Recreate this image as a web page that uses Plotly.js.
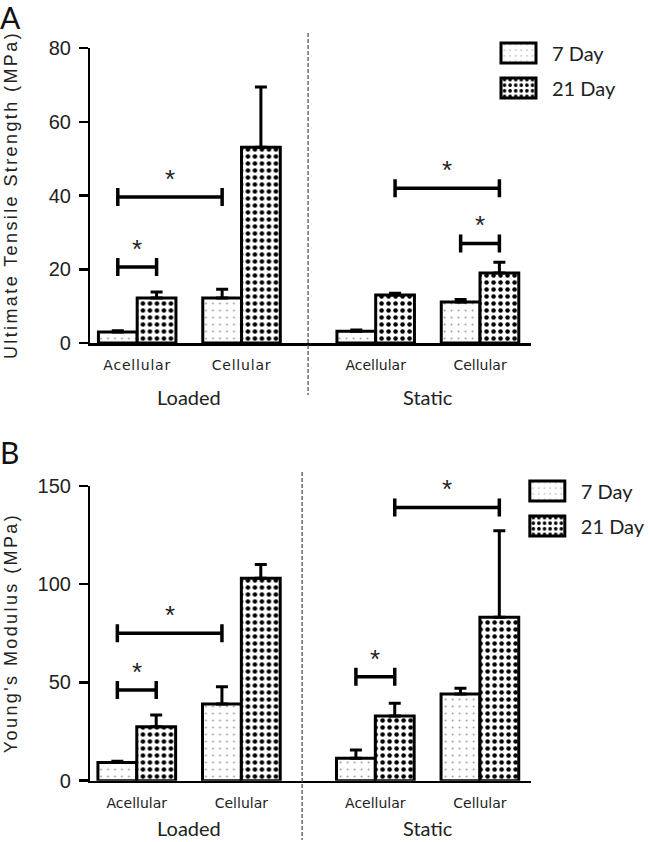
<!DOCTYPE html>
<html><head><meta charset="utf-8">
<script src="https://cdn.plot.ly/plotly-3.0.1.min.js"></script>
<style>
html,body{margin:0;padding:0;background:#fff;}
#chart{width:650px;height:842px;}
.xtick text{letter-spacing:0.8px;}
.annotation[data-index="0"] text,.annotation[data-index="1"] text{letter-spacing:2.4px;}
g.legendpoints path{d:path('M17.5,10H-17.5V-10H17.5Z');stroke-width:3px !important;}
</style></head><body><div id="chart"></div>
<script>
// ---- data ----
const categories = ['Acellular', 'Cellular'];
const groups = ['Loaded', 'Static'];
const seriesNames = ['7 Day', '21 Day'];

// Panel A: Ultimate Tensile Strength (MPa)
const utsLoaded7 = [3.0, 12.2];
const utsLoaded7Err = [0.3, 2.4];
const utsLoaded21 = [12.2, 53.1];
const utsLoaded21Err = [1.6, 16.3];
const utsStatic7 = [3.2, 11.1];
const utsStatic7Err = [0.3, 0.7];
const utsStatic21 = [13.0, 19.0];
const utsStatic21Err = [0.5, 2.9];
const utsTicks = [0, 20, 40, 60, 80];

// Panel B: Young's Modulus (MPa)
const ymLoaded7 = [9.3, 39.0];
const ymLoaded7Err = [0.6, 8.8];
const ymLoaded21 = [27.5, 103.0];
const ymLoaded21Err = [5.9, 7.1];
const ymStatic7 = [11.4, 44.1];
const ymStatic7Err = [4.2, 2.9];
const ymStatic21 = [32.9, 83.2];
const ymStatic21Err = [6.5, 44.0];
const ymTicks = [0, 50, 100, 150];

// significance brackets: [group, fromCategory, fromSeries, toCategory, toSeries, height]
const utsSig = [
  ['Loaded', 'Acellular', '7 Day', 'Acellular', '21 Day', 20.6],
  ['Loaded', 'Acellular', '7 Day', 'Cellular', '7 Day', 39.6],
  ['Static', 'Acellular', '21 Day', 'Cellular', '21 Day', 42.0],
  ['Static', 'Cellular', '7 Day', 'Cellular', '21 Day', 27.0]
];
const ymSig = [
  ['Loaded', 'Acellular', '7 Day', 'Acellular', '21 Day', 46.2],
  ['Loaded', 'Acellular', '7 Day', 'Cellular', '7 Day', 75.0],
  ['Static', 'Acellular', '7 Day', 'Acellular', '21 Day', 52.9],
  ['Static', 'Acellular', '21 Day', 'Cellular', '21 Day', 139.1]
];

// ---- styles ----
const BARGAP = 0.257;
const pattern7 = {shape: '.', fgcolor: '#999999', bgcolor: 'white', size: 7, solidity: 0.06};
const pattern21 = {shape: '.', fgcolor: 'black', bgcolor: 'white', size: 7, solidity: 0.33};

function barTrace(y, err, name, xa, ya, legendName, show, pat) {
  return {
    type: 'bar', x: categories, y: y, name: name, xaxis: xa, yaxis: ya,
    legend: legendName, legendgroup: name, showlegend: show,
    marker: {color: 'white', line: {color: 'black', width: 3}, pattern: pat},
    error_y: {type: 'data', symmetric: false, array: err, arrayminus: err.map(() => 0),
              color: 'black', thickness: 3, width: 6},
    hoverinfo: 'skip'
  };
}

const data = [
  barTrace(utsLoaded7, utsLoaded7Err, seriesNames[0], 'x', 'y', 'legend', true, pattern7),
  barTrace(utsLoaded21, utsLoaded21Err, seriesNames[1], 'x', 'y', 'legend', true, pattern21),
  barTrace(utsStatic7, utsStatic7Err, seriesNames[0], 'x2', 'y', 'legend', false, pattern7),
  barTrace(utsStatic21, utsStatic21Err, seriesNames[1], 'x2', 'y', 'legend', false, pattern21),
  barTrace(ymLoaded7, ymLoaded7Err, seriesNames[0], 'x3', 'y2', 'legend2', true, pattern7),
  barTrace(ymLoaded21, ymLoaded21Err, seriesNames[1], 'x3', 'y2', 'legend2', true, pattern21),
  barTrace(ymStatic7, ymStatic7Err, seriesNames[0], 'x4', 'y2', 'legend2', false, pattern7),
  barTrace(ymStatic21, ymStatic21Err, seriesNames[1], 'x4', 'y2', 'legend2', false, pattern21)
];

const W = 650, H = 842;
const px = v => v / W;
const py = v => 1 - v / H;

const tickFont = {family: 'DejaVu Sans', size: 14, color: '#222'};
function xAxis(domain, range, anchor) {
  return {domain: domain, range: range, anchor: anchor, type: 'category',
    showline: true, linecolor: 'black', linewidth: 2.5, ticks: '', showgrid: false,
    zeroline: false, tickfont: tickFont, ticklabelstandoff: 8, fixedrange: true};
}
function yAxis(domain, range, tickvals, anchor) {
  return {domain: domain, range: range, anchor: anchor, tickvals: tickvals,
    showline: true, linecolor: 'black', linewidth: 2.5, ticks: 'outside', ticklen: 9,
    tickwidth: 2.5, tickcolor: 'black', showgrid: false, zeroline: false,
    tickfont: {family: 'Liberation Sans', size: 20, color: '#222'}, ticklabelstandoff: 4};
}

const layout = {
  width: W, height: H, margin: {l: 0, r: 0, t: 0, b: 0},
  paper_bgcolor: 'white', plot_bgcolor: 'rgba(0,0,0,0)',
  barmode: 'group', bargap: BARGAP, bargroupgap: 0,
  xaxis: xAxis([px(91), px(310)], [-0.448, 1.638], 'y'),
  xaxis2: xAxis([px(310), px(534)], [-0.648, 1.486], 'y'),
  xaxis3: xAxis([px(91), px(304)], [-0.443, 1.581], 'y2'),
  xaxis4: xAxis([px(304), px(534)], [-0.70, 1.486], 'y2'),
  yaxis: yAxis([py(343), py(48)], [0, 80], utsTicks, 'x'),
  yaxis2: yAxis([py(780.7), py(486)], [0, 150], ymTicks, 'x3'),
  legend: {x: px(488), y: py(33.5), xanchor: 'left', yanchor: 'top', itemwidth: 57,
    tracegroupgap: 6, bgcolor: 'rgba(0,0,0,0)', font: {family: 'Lato', size: 20, color: '#222'}},
  legend2: {x: px(517), y: py(471.5), xanchor: 'left', yanchor: 'top', itemwidth: 57,
    tracegroupgap: 6, bgcolor: 'rgba(0,0,0,0)', font: {family: 'Lato', size: 20, color: '#222'}},
  shapes: [], annotations: []
};

// axis titles (index 0, 1)
layout.annotations.push({xref: 'paper', yref: 'paper', x: px(11), y: py(195), text: 'Ultimate Tensile Strength (MPa)',
  textangle: -90, showarrow: false, xanchor: 'center', yanchor: 'middle',
  font: {family: 'Liberation Sans', size: 18, color: '#222'}});
layout.annotations.push({xref: 'paper', yref: 'paper', x: px(11), y: py(633), text: "Young's Modulus (MPa)",
  textangle: -90, showarrow: false, xanchor: 'center', yanchor: 'middle',
  font: {family: 'Liberation Sans', size: 18, color: '#222'}});

// panel letters
layout.annotations.push({xref: 'paper', yref: 'paper', x: 0, y: 1, text: 'A', showarrow: false,
  xanchor: 'left', yanchor: 'top', yshift: 3, xshift: -2, font: {family: 'Lato', size: 30, color: '#111'}});
layout.annotations.push({xref: 'paper', yref: 'paper', x: 0, y: py(432), text: 'B', showarrow: false,
  xanchor: 'left', yanchor: 'top', xshift: -2, font: {family: 'Lato', size: 30, color: '#111'}});

// group labels
const groupAxesA = {Loaded: 'x', Static: 'x2'};
const groupAxesB = {Loaded: 'x3', Static: 'x4'};
groups.forEach(g => {
  layout.annotations.push({xref: groupAxesA[g], yref: 'paper', x: 0.5, y: py(397), text: g, showarrow: false,
    xanchor: 'center', yanchor: 'middle', font: {family: 'Lato', size: 20, color: '#222'}});
  layout.annotations.push({xref: groupAxesB[g], yref: 'paper', x: 0.5, y: py(828), text: g, showarrow: false,
    xanchor: 'center', yanchor: 'middle', font: {family: 'Lato', size: 20, color: '#222'}});
});

// dashed separators at the boundary of Loaded/Static
layout.shapes.push({type: 'line', xref: 'x2 domain', yref: 'paper', x0: 0, x1: 0, y0: py(33), y1: py(395),
  line: {color: '#555', width: 1.3, dash: '4px,2px'}});
layout.shapes.push({type: 'line', xref: 'x4 domain', yref: 'paper', x0: 0, x1: 0, y0: py(472), y1: py(840),
  line: {color: '#555', width: 1.3, dash: '4px,2px'}});

// significance brackets
function barX(cat, ser) {
  return categories.indexOf(cat) + (ser === seriesNames[0] ? -1 : 1) * (1 - BARGAP) / 4;
}
function addSig(list, axes, yref) {
  list.forEach(s => {
    const xref = axes[s[0]];
    const xa = barX(s[1], s[2]), xb = barX(s[3], s[4]), h = s[5];
    const ln = {color: 'black', width: 3.5};
    layout.shapes.push({type: 'line', xref: xref, yref: yref, x0: xa, x1: xb, y0: h, y1: h, line: ln});
    [xa, xb].forEach(xx => layout.shapes.push({type: 'line', xref: xref, yref: yref, x0: xx, x1: xx,
      ysizemode: 'pixel', yanchor: h, y0: -9, y1: 9, line: ln}));
    layout.annotations.push({xref: xref, yref: yref, x: (xa + xb) / 2, y: h, text: '*', showarrow: false,
      xanchor: 'center', yanchor: 'bottom', yshift: 1, font: {family: 'Liberation Sans', size: 26, color: '#222'}});
  });
}
addSig(utsSig, groupAxesA, 'y');
addSig(ymSig, groupAxesB, 'y2');

Plotly.newPlot('chart', data, layout, {staticPlot: true});
</script></body></html>
